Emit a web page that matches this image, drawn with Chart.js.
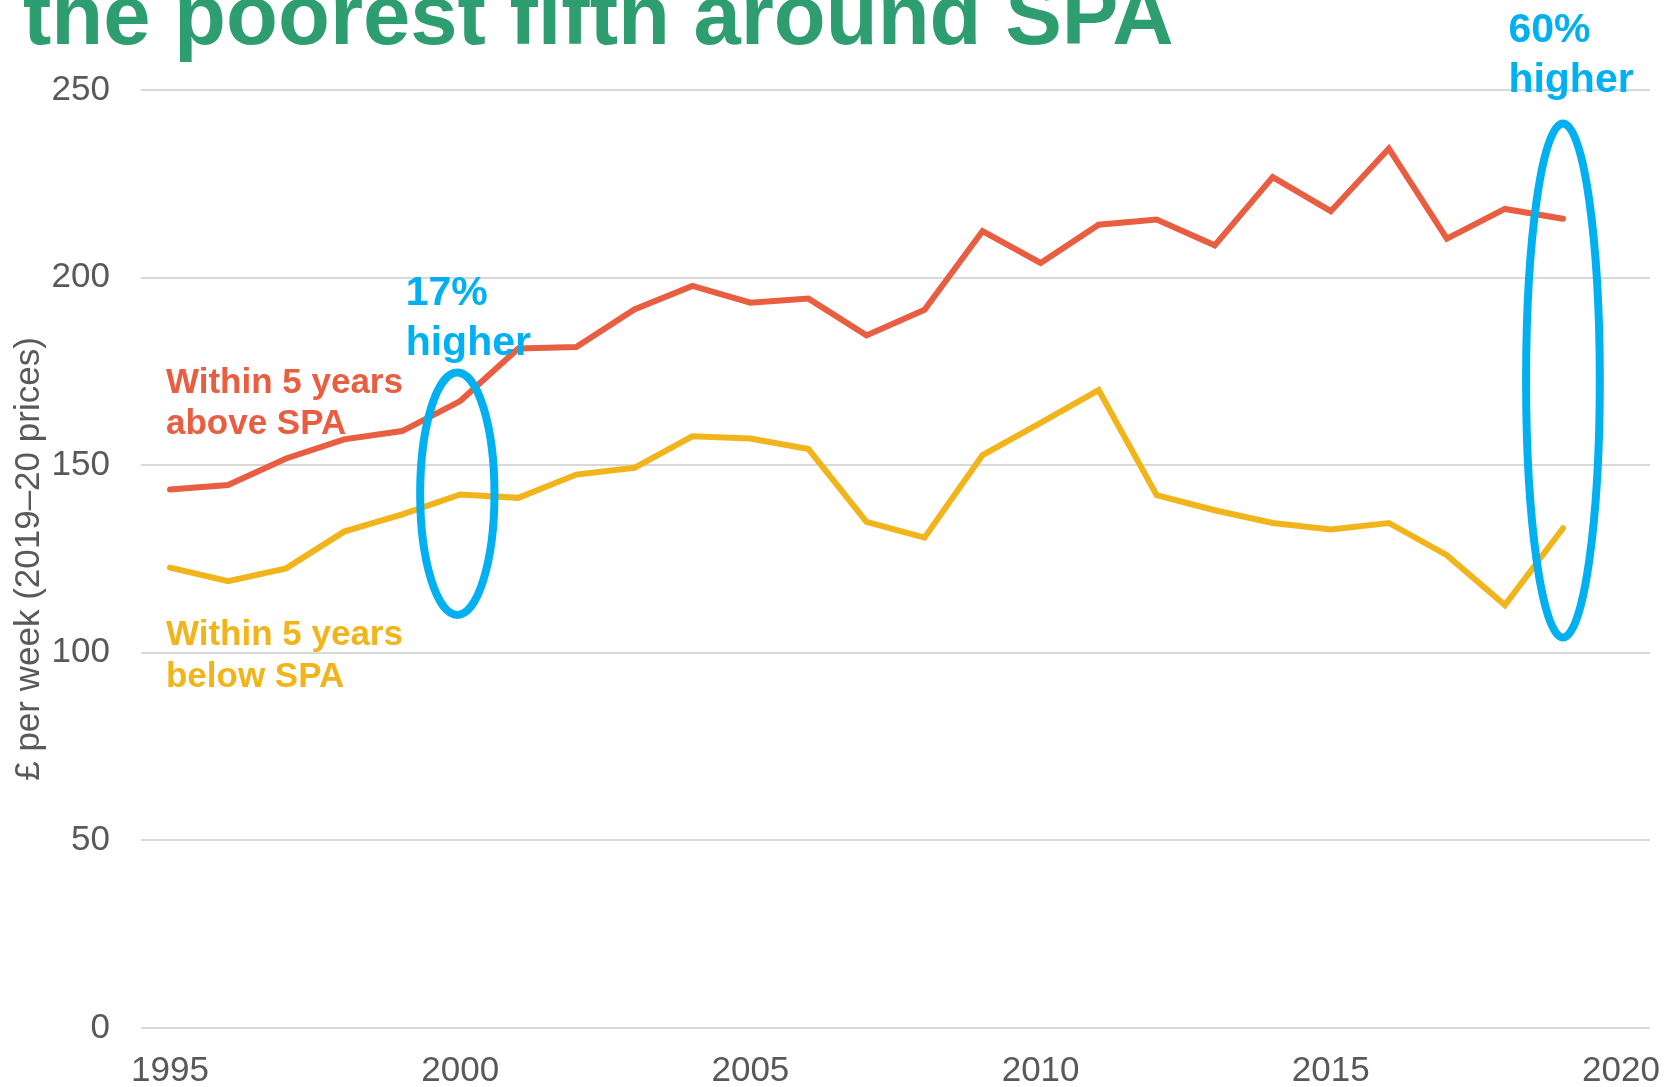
<!DOCTYPE html>
<html>
<head>
<meta charset="utf-8">
<script src="https://cdn.jsdelivr.net/npm/chart.js@4.4.0/dist/chart.umd.min.js"></script>
<style>
  html, body { margin: 0; padding: 0; background: #fff; }
  #wrap { width: 1674px; height: 1087px; position: relative; }
</style>
</head>
<body>
<div id="wrap"><canvas id="chart"></canvas></div>
<script>
// years on the x axis (financial years, first year shown)
var years = [1995, 1996, 1997, 1998, 1999, 2000, 2001, 2002, 2003, 2004, 2005, 2006, 2007,
             2008, 2009, 2010, 2011, 2012, 2013, 2014, 2015, 2016, 2017, 2018, 2019];

// £ per week, 2019-20 prices, poorest fifth
var aboveSPA = [143.5, 144.7, 151.8, 156.9, 159.1, 167.1, 181.1, 181.5, 191.5, 197.8, 193.3, 194.4, 184.6,
                191.4, 212.4, 203.9, 214.1, 215.5, 208.6, 226.8, 217.7, 234.4, 210.4, 218.3, 215.7];
var belowSPA = [122.7, 119.1, 122.5, 132.3, 136.9, 142.2, 141.3, 147.5, 149.3, 157.7, 157.1, 154.3, 134.9,
                130.7, 152.7, 161.3, 170.0, 142.0, 138.0, 134.6, 132.9, 134.6, 126.0, 112.7, 133.2];

var xTicks = [1995, 2000, 2005, 2010, 2015, 2020];
var yTicks = [0, 50, 100, 150, 200, 250];

var titleText = "the poorest fifth around SPA";
var yTitle = "£ per week (2019–20 prices)";

var RED = "#E95D41";
var YELLOW = "#F2B41B";
var BLUE = "#00B0F0";
var GREEN = "#2E9E71";
var GREY = "#595959";
var FONT = "'Liberation Sans', Arial, sans-serif";

// text notes, anchored in data units (year, value of first baseline)
var notes = [
  { lines: ["Within 5 years", "above SPA"], year: 1994.93, value: 169.3, color: RED, size: 35, gap: 41.7 },
  { lines: ["Within 5 years", "below SPA"], year: 1994.93, value: 102.1, color: YELLOW, size: 35, gap: 42.3 },
  { lines: ["17%", "higher"], year: 1999.06, value: 192.6, color: BLUE, size: 41, gap: 50 },
  { lines: ["60%", "higher"], year: 2018.06, value: 262.7, color: BLUE, size: 41, gap: 49.6 }
];
// blue rings round the gaps, centre and radii in data units
var rings = [
  { year: 1999.95, value: 142.4, rx: 0.64, ry: 32.3 },
  { year: 2019.0, value: 172.6, rx: 0.635, ry: 68.5 }
];

var extras = {
  id: "extras",
  afterDatasetsDraw: function (chart) {
    var ctx = chart.ctx, xs = chart.scales.x, ys = chart.scales.y;
    ctx.save();
    ctx.strokeStyle = BLUE;
    ctx.lineWidth = 8;
    rings.forEach(function (r) {
      var cx = xs.getPixelForValue(r.year), cy = ys.getPixelForValue(r.value);
      var rx = xs.getPixelForValue(r.year + r.rx) - cx;
      var ry = cy - ys.getPixelForValue(r.value + r.ry);
      ctx.beginPath();
      ctx.ellipse(cx, cy, rx, ry, 0, 0, Math.PI * 2);
      ctx.stroke();
    });
    ctx.textAlign = "left";
    ctx.textBaseline = "alphabetic";
    notes.forEach(function (n) {
      ctx.fillStyle = n.color;
      ctx.font = "bold " + n.size + "px " + FONT;
      var x = xs.getPixelForValue(n.year), y = ys.getPixelForValue(n.value);
      n.lines.forEach(function (l, i) {
        ctx.fillText(l, x, y + i * n.gap);
      });
    });
    // headline, cut off at the top like the slide crop
    ctx.fillStyle = GREEN;
    ctx.font = "bold 85px " + FONT;
    ctx.fillText(titleText, 23, 44);
    ctx.restore();
  }
};

var ctx = document.getElementById("chart");
new Chart(ctx, {
  type: "line",
  data: {
    labels: years,
    datasets: [
      { label: "Within 5 years above SPA", data: years.map(function (y, i) { return { x: y, y: aboveSPA[i] }; }),
        borderColor: RED, backgroundColor: RED, borderWidth: 6, pointRadius: 0, tension: 0, borderCapStyle: "round" },
      { label: "Within 5 years below SPA", data: years.map(function (y, i) { return { x: y, y: belowSPA[i] }; }),
        borderColor: YELLOW, backgroundColor: YELLOW, borderWidth: 6, pointRadius: 0, tension: 0, borderCapStyle: "round" }
    ]
  },
  options: {
    responsive: true,
    maintainAspectRatio: false,
    animation: false,
    layout: { padding: { top: 90, right: 24, left: 0, bottom: 0 } },
    plugins: { legend: { display: false }, tooltip: { enabled: false } },
    scales: {
      x: {
        type: "linear",
        min: 1994.5,
        max: 2020.5,
        afterBuildTicks: function (s) { s.ticks = xTicks.map(function (v) { return { value: v }; }); },
        afterFit: function (s) { s.height = 59; s.paddingLeft = 0; s.paddingRight = 0; },
        grid: { display: false, drawTicks: false },
        border: { display: false },
        ticks: {
          padding: 22,
          color: GREY,
          font: { family: FONT, size: 35 },
          maxRotation: 0,
          callback: function (v) { return String(v); }
        }
      },
      y: {
        min: 0,
        max: 250,
        afterBuildTicks: function (s) { s.ticks = yTicks.map(function (v) { return { value: v }; }); },
        afterFit: function (s) { s.width = 141; s.paddingTop = 0; s.paddingBottom = 0; },
        grid: { color: "#D9D9D9", lineWidth: 2, drawTicks: false },
        border: { display: false },
        ticks: {
          padding: 31,
          color: GREY,
          font: { family: FONT, size: 35 },
          callback: function (v) { return String(v); }
        },
        title: {
          display: true,
          text: yTitle,
          color: GREY,
          font: { family: FONT, size: 35 },
          padding: { top: 8, bottom: 0 }
        }
      }
    }
  },
  plugins: [extras]
});
</script>
</body>
</html>
